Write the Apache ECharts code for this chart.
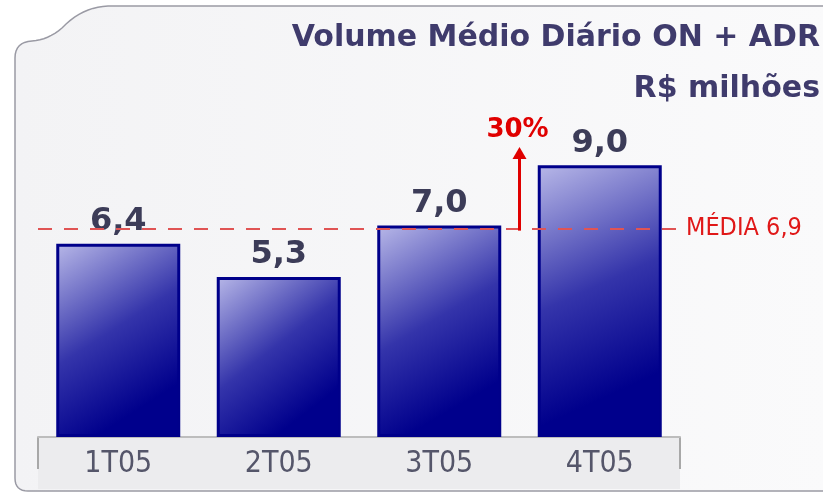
<!DOCTYPE html>
<html>
<head>
<meta charset="utf-8">
<script src="https://cdn.jsdelivr.net/npm/echarts@6/dist/echarts.min.js"></script>
<style>
  html, body { margin: 0; padding: 0; background: #ffffff; }
  #chart { width: 823px; height: 496px; }
</style>
</head>
<body>
<div id="chart"></div>
<script>
// dados do gráfico
const categorias = ['1T05', '2T05', '3T05', '4T05']
const volumes = [6.4, 5.3, 7.0, 9.0]
const media = 6.9
const crescimento = '30%'

const chart = echarts.init(document.getElementById('chart'))
const fmt = (v) => v.toFixed(1).replace('.', ',')

const option = {
  backgroundColor: '#ffffff',
  animation: false,
  grid: { left: 38, right: 143, top: 135, bottom: 59 },
  xAxis: {
    type: 'category',
    data: categorias,
    axisLine: { lineStyle: { color: '#bdbdbd', width: 2 } },
    axisTick: { show: false },
    axisLabel: { margin: 12, fontFamily: 'DejaVu Sans Condensed', fontSize: 30, color: '#55566a' },
  },
  yAxis: {
    type: 'value',
    min: 0,
    max: 10,
    show: false,
  },
  series: [
    {
      type: 'bar',
      data: volumes,
      barWidth: 124,
      itemStyle: {
        borderColor: '#00008a',
        borderWidth: 3,
        color: new echarts.graphic.LinearGradient(0, 0, 1, 1, [
          { offset: 0, color: '#b8b8e8' },
          { offset: 0.45, color: '#3434aa' },
          { offset: 0.8, color: '#00008c' },
          { offset: 1, color: '#00008c' },
        ]),
      },
      label: {
        show: true,
        position: 'top',
        distance: 6,
        formatter: (p) => fmt(p.value),
        fontFamily: 'DejaVu Sans',
        fontSize: 32,
        fontWeight: 'bold',
        color: '#3c3c58',
      },
      markLine: {
        symbol: 'none',
        silent: true,
        data: [{ yAxis: media }],
        lineStyle: { color: '#e05454', type: [14, 12], width: 2 },
        label: {
          position: 'end',
          distance: 6,
          formatter: 'MÉDIA ' + fmt(media),
          fontFamily: 'DejaVu Sans Condensed',
          fontSize: 25,
          color: '#e01818',
        },
      },
      z: 3,
    },
  ],
}
chart.setOption(option)

// moldura com a aba curva no canto superior esquerdo
function quad(p0, c, p1, n) {
  const pts = []
  for (let i = 1; i <= n; i++) {
    const t = i / n
    const a = (1 - t) * (1 - t), b = 2 * t * (1 - t), d = t * t
    pts.push([a * p0[0] + b * c[0] + d * p1[0], a * p0[1] + b * c[1] + d * p1[1]])
  }
  return pts
}
let moldura = [[15, 478], [15, 58]]
moldura = moldura.concat(quad([15, 58], [15, 42], [32, 41], 8))
moldura = moldura.concat(quad([32, 41], [48, 40], [62, 28], 8))
moldura = moldura.concat(quad([62, 28], [82, 7], [108, 6], 10))
moldura = moldura.concat([[830, 6], [830, 491], [28, 491]])
moldura = moldura.concat(quad([28, 491], [15, 491], [15, 478], 8))

// faixa do eixo e seta de crescimento
const g = chart.getModel().getComponent('grid').coordinateSystem.getRect()
const p3 = chart.convertToPixel({ seriesIndex: 0 }, [2, media])
const p4 = chart.convertToPixel({ seriesIndex: 0 }, [3, volumes[3]])
const setaX = (p3[0] + p4[0]) / 2
const setaTop = chart.convertToPixel({ seriesIndex: 0 }, [3, 9.6])[1]
const base = g.y + g.height
const tituloFont = 'bold 30px "DejaVu Sans"'

chart.setOption({
  graphic: [
    {
      type: 'polygon',
      z: -10,
      shape: { points: moldura },
      style: {
        fill: new echarts.graphic.LinearGradient(0, 0, 1, 0, [
          { offset: 0, color: '#f3f3f5' },
          { offset: 1, color: '#fafafb' },
        ]),
        stroke: '#9a9aa4',
        lineWidth: 1.5,
      },
    },
    {
      type: 'rect',
      z: -5,
      shape: { x: g.x, y: base, width: g.width, height: 52 },
      style: { fill: '#ececee' },
    },
    {
      type: 'line',
      shape: { x1: g.x, y1: base, x2: g.x, y2: base + 32 },
      style: { stroke: '#a8a8a8', lineWidth: 2 },
    },
    {
      type: 'line',
      shape: { x1: g.x + g.width, y1: base, x2: g.x + g.width, y2: base + 32 },
      style: { stroke: '#a8a8a8', lineWidth: 2 },
    },
    {
      type: 'text',
      x: 820,
      y: 38,
      style: { text: 'Volume Médio Diário ON + ADR', align: 'right', verticalAlign: 'middle', font: tituloFont, fill: '#3f3b6c' },
    },
    {
      type: 'text',
      x: 820,
      y: 89,
      style: { text: 'R$ milhões', align: 'right', verticalAlign: 'middle', font: tituloFont, fill: '#3f3b6c' },
    },
    {
      type: 'line',
      z: 10,
      shape: { x1: setaX, y1: p3[1] + 2, x2: setaX, y2: setaTop + 10 },
      style: { stroke: '#e00000', lineWidth: 3 },
    },
    {
      type: 'polygon',
      z: 10,
      shape: { points: [[setaX - 7, setaTop + 12], [setaX + 7, setaTop + 12], [setaX, setaTop]] },
      style: { fill: '#e00000' },
    },
    {
      type: 'text',
      z: 10,
      x: setaX - 2,
      y: setaTop - 4,
      style: {
        text: crescimento,
        align: 'center',
        verticalAlign: 'bottom',
        font: 'bold 26px "DejaVu Sans"',
        fill: '#e00000',
      },
    },
  ],
})
</script>
</body>
</html>
